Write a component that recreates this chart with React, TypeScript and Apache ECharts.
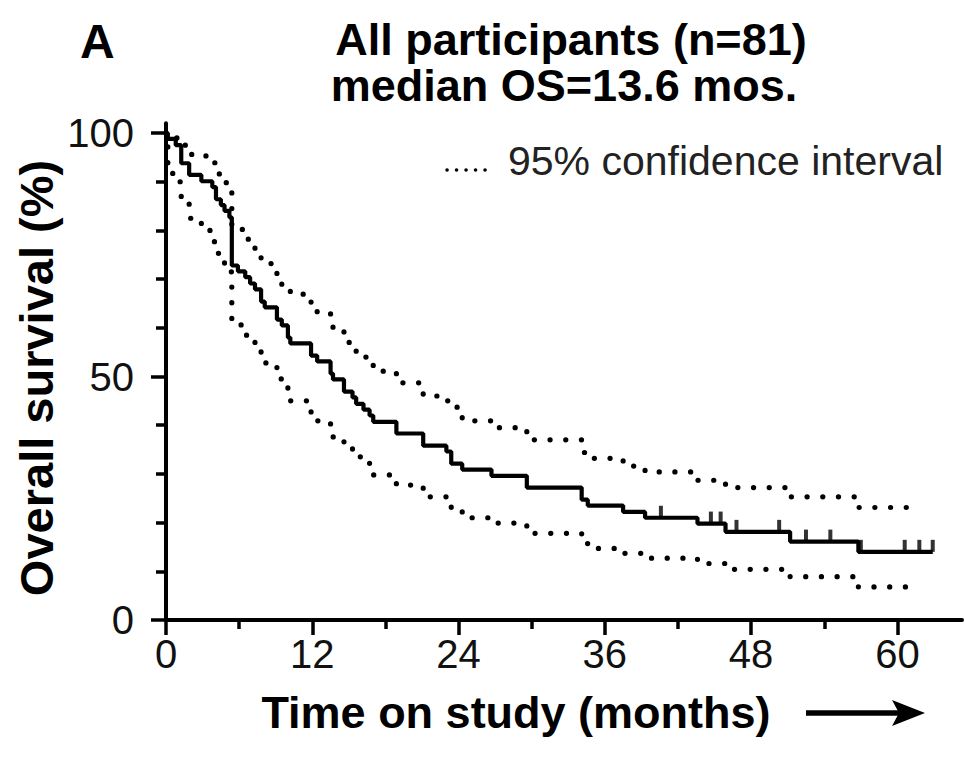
import React, { useEffect, useRef } from "react";
import * as echarts from "echarts";

// Kaplan-Meier event times (months) and survival (%) after each event
const kmTime = [0, 0.15, 0.8, 1.25, 1.9, 2.9, 3.8, 4.1, 4.5, 4.8, 5.2, 5.4, 5.9, 6.5, 6.9, 7.3, 7.8, 8.1, 9.1, 9.5, 10.0, 10.2, 11.9, 12.4, 13.5, 13.7, 14.6, 15.3, 15.6, 16.2, 16.7, 17.0, 18.9, 21.1, 23.0, 23.4, 24.3, 26.7, 29.6, 34.1, 34.6, 37.5, 39.3, 43.6, 45.9, 51.2, 56.8];
const kmSurv = [100, 98.8, 97.5, 93.8, 91.4, 90.1, 88.9, 86.4, 85.2, 84.0, 82.7, 72.8, 71.6, 70.4, 69.1, 67.9, 65.4, 64.2, 61.7, 60.5, 58.0, 56.8, 54.3, 53.1, 50.6, 49.4, 46.9, 45.7, 44.4, 43.2, 42.0, 40.7, 38.3, 35.8, 34.6, 32.1, 30.9, 29.6, 27.2, 24.7, 23.5, 22.2, 21.0, 19.8, 18.1, 16.1, 14.0];
const ciUpper = [100, 100, 99.0, 97.5, 95.6, 95.3, 93.9, 91.6, 90.6, 89.8, 88.0, 81.0, 80.2, 78.2, 77.0, 76.1, 74.1, 73.2, 70.7, 68.9, 67.9, 66.9, 64.3, 63.1, 61.9, 59.3, 57.0, 56.5, 54.8, 54.0, 53.5, 51.1, 48.7, 46.0, 45.0, 43.7, 40.9, 39.5, 37.0, 34.4, 33.2, 31.6, 30.4, 28.7, 27.2, 25.3, 23.1];
const ciLower = [100, 91.7, 90.0, 86.8, 82.5, 80.0, 77.7, 75.3, 74.0, 73.0, 71.5, 61.8, 60.6, 58.5, 57.5, 56.0, 54.1, 52.8, 49.5, 48.1, 46.4, 45.0, 41.9, 40.9, 39.4, 37.6, 35.7, 34.5, 33.5, 32.5, 31.5, 29.8, 27.7, 25.3, 24.5, 22.5, 21.0, 19.9, 17.8, 15.7, 14.7, 13.7, 12.7, 11.6, 10.4, 8.9, 6.8];
const kmEnd = 62.9;
const ciEnd = 61.5;

// Censored observations
const censorTime = [40.6, 44.7, 45.5, 46.8, 50.3, 52.5, 54.5, 57.0, 60.6, 61.8, 62.9];
const censorSurv = [21.0, 19.8, 19.8, 18.1, 18.1, 16.1, 16.1, 14.0, 14.0, 14.0, 14.0];

const xMajorTicks = [0, 12, 24, 36, 48, 60];
const xMinorTicks = [6, 18, 30, 42, 54];
const yMajorTicks = [0, 50, 100];
const yMinorTicks = [10, 20, 30, 40, 60, 70, 80, 90];

const FONT = "'Liberation Sans', Arial, Helvetica, sans-serif";

function stepData(vals: number[], end: number) {
  const d = kmTime.map((t, i) => [t, vals[i]]);
  d.push([end, vals[vals.length - 1]]);
  return d;
}

export default function App() {
  const ref = useRef<HTMLDivElement>(null);
  useEffect(() => {
    if (!ref.current) return;
    const chart = echarts.init(ref.current, undefined, { renderer: "svg" });
    const axisCommon = {
      type: "value" as const,
      splitLine: { show: false },
    };
    const option: any = {
      animation: false,
      backgroundColor: "#fff",
      grid: { left: 166, right: 2, top: 123.3, bottom: 140, outerBoundsMode: "none" },
      xAxis: [
        {
          ...axisCommon,
          min: 0,
          max: 65.3,
          axisLine: { show: true, lineStyle: { color: "#000", width: 4 } },
          axisTick: { show: true, customValues: xMajorTicks, length: 15, lineStyle: { color: "#000", width: 3.5 } },
          axisLabel: { show: true, customValues: xMajorTicks, fontSize: 40, color: "#111", fontFamily: FONT, margin: 14 },
        },
        {
          ...axisCommon,
          min: 0,
          max: 65.3,
          position: "bottom",
          axisLine: { show: false },
          axisTick: { show: true, customValues: xMinorTicks, length: 9, lineStyle: { color: "#000", width: 3.5 } },
          axisLabel: { show: false },
        },
      ],
      yAxis: [
        {
          ...axisCommon,
          min: 0,
          max: 102,
          axisLine: { show: true, lineStyle: { color: "#000", width: 4 } },
          axisTick: { show: true, customValues: yMajorTicks, length: 15, lineStyle: { color: "#000", width: 3.5 } },
          axisLabel: { show: true, customValues: yMajorTicks, fontSize: 40, color: "#111", fontFamily: FONT, margin: 32 },
        },
        {
          ...axisCommon,
          min: 0,
          max: 102,
          position: "left",
          axisLine: { show: false },
          axisTick: { show: true, customValues: yMinorTicks, length: 10, lineStyle: { color: "#000", width: 3.5 } },
          axisLabel: { show: false },
        },
      ],
      series: [
        {
          type: "line",
          name: "upper",
          data: stepData(ciUpper, ciEnd),
          step: "end",
          showSymbol: false,
          lineStyle: { color: "#000", width: 5.2, type: [0.1, 15.6], cap: "round" },
        },
        {
          type: "line",
          name: "lower",
          data: stepData(ciLower, ciEnd),
          step: "end",
          showSymbol: false,
          lineStyle: { color: "#000", width: 5.2, type: [0.1, 15.6], cap: "round" },
        },
        {
          type: "line",
          name: "KM",
          data: stepData(kmSurv, kmEnd),
          step: "end",
          showSymbol: false,
          lineStyle: { color: "#000", width: 4.2 },
        },
        {
          type: "scatter",
          name: "censored",
          data: censorTime.map((t, i) => [t, censorSurv[i]]),
          symbol: "rect",
          symbolSize: [4, 12],
          symbolOffset: [0, -6],
          itemStyle: { color: "#000" },
        },
      ],
      graphic: [
        {
          type: "text",
          left: 80,
          top: 17,
          style: { text: "A", font: `bold 48px ${FONT}`, fill: "#000" },
        },
        {
          type: "text",
          x: 571,
          y: 39,
          style: { text: "All participants (n=81)", font: `bold 45px ${FONT}`, lineHeight: 40, fill: "#000", align: "center", verticalAlign: "middle" },
        },
        {
          type: "text",
          x: 564,
          y: 85,
          style: { text: "median OS=13.6 mos.", font: `bold 45px ${FONT}`, lineHeight: 40, fill: "#000", align: "center", verticalAlign: "middle" },
        },
        {
          type: "text",
          x: 36,
          y: 378,
          rotation: Math.PI / 2,
          style: { text: "Overall survival (%)", font: `bold 47px ${FONT}`, fill: "#000", align: "center", verticalAlign: "middle" },
        },
        {
          type: "text",
          x: 516,
          y: 712,
          style: { text: "Time on study (months)", font: `bold 45px ${FONT}`, fill: "#000", align: "center", verticalAlign: "middle" },
        },
        {
          type: "line",
          shape: { x1: 806, y1: 713, x2: 900, y2: 713 },
          style: { stroke: "#000", lineWidth: 5.5 },
        },
        {
          type: "polygon",
          shape: { points: [[892, 700], [925, 713], [892, 726], [899, 713]] },
          style: { fill: "#000" },
        },
        {
          type: "line",
          shape: { x1: 447, y1: 170, x2: 494, y2: 170 },
          style: { stroke: "#000", lineWidth: 3.5, lineDash: [0.1, 9.4], lineCap: "round" },
        },
        {
          type: "text",
          x: 508,
          y: 161,
          style: { text: "95% confidence interval", font: `41px ${FONT}`, fill: "#222", align: "left", verticalAlign: "middle" },
        },
      ],
    };
    chart.setOption(option);
    return () => chart.dispose();
  }, []);
  return (
    <div
      ref={ref}
      style={{ position: "fixed", left: 0, top: 0, width: 964, height: 760, background: "#fff" }}
    />
  );
}
